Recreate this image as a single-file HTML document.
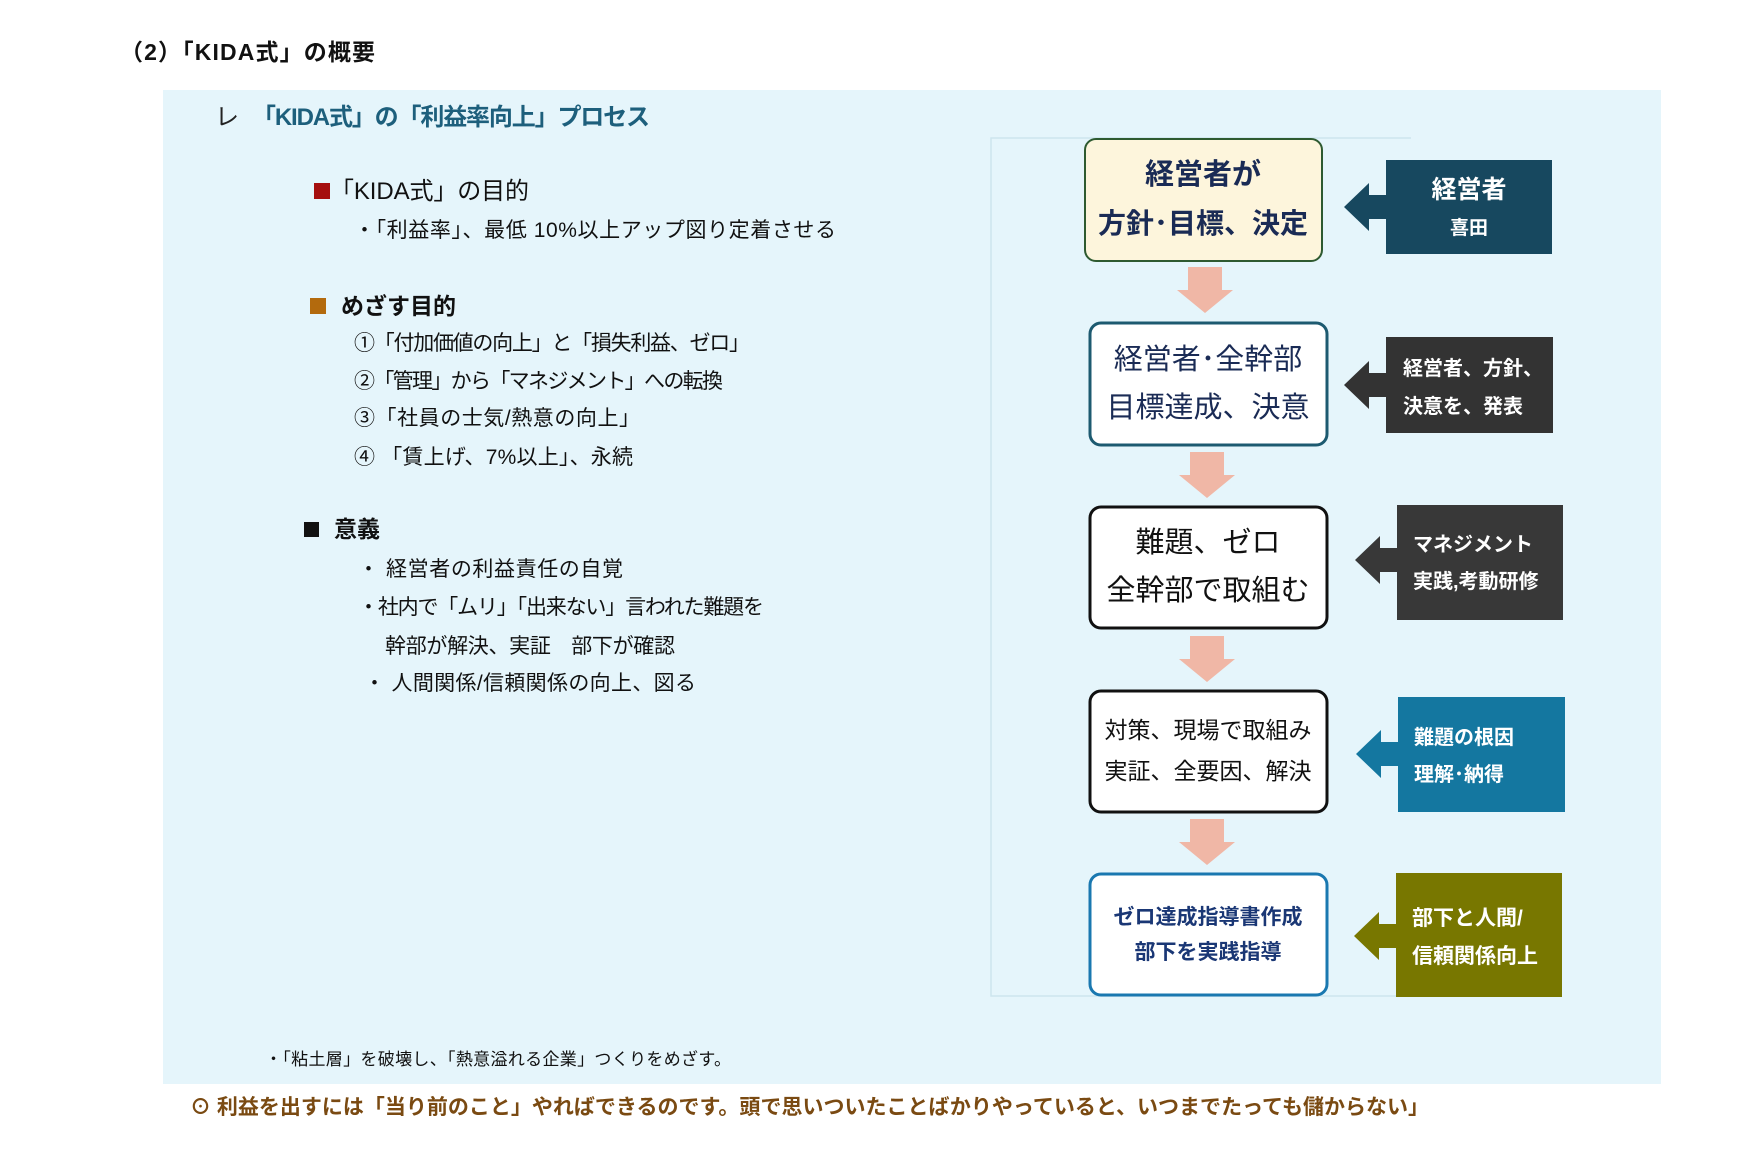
<!DOCTYPE html>
<html><head><meta charset="utf-8"><style>
html,body{margin:0;padding:0;background:#fff;}
svg{display:block;}
text{font-family:"Liberation Sans","Noto Sans CJK JP",sans-serif;}
</style></head><body>
<svg width="1755" height="1155" viewBox="0 0 1755 1155" xmlns="http://www.w3.org/2000/svg">
<rect x="0" y="0" width="1755" height="1155" fill="#fff"/>
<text x="120" y="60" font-size="23" font-weight="bold" fill="#111" textLength="255">（2）「KIDA式」の概要</text>
<rect x="163" y="90" width="1498" height="994" fill="#e5f5fb"/>
<text x="215" y="125" font-size="24" fill="#222">レ</text>
<text x="252" y="125" font-size="24" font-weight="bold" fill="#1d5f7c" textLength="398">「KIDA式」の「利益率向上」プロセス</text>

<rect x="314" y="183" width="16" height="16" fill="#a50f0f"/>
<text x="330" y="199" font-size="24" fill="#111" textLength="199">「KIDA式」の目的</text>
<text x="354" y="237" font-size="21" fill="#111" textLength="482">・「利益率」、最低 10%以上アップ図り定着させる</text>

<rect x="310" y="298" width="16" height="16" fill="#b36a0d"/>
<text x="341" y="314" font-size="23" font-weight="bold" fill="#111">めざす目的</text>
<text x="354" y="350" font-size="21" fill="#111" textLength="396">①「付加価値の向上」と「損失利益、ゼロ」</text>
<text x="354" y="388" font-size="21" fill="#111" textLength="369">②「管理」から「マネジメント」への転換</text>
<text x="354" y="425" font-size="21" fill="#111" textLength="286">③「社員の士気/熱意の向上」</text>
<text x="354" y="464" font-size="21" fill="#111" textLength="279">④ 「賃上げ、7%以上」、永続</text>

<rect x="304" y="522" width="15" height="15" fill="#111"/>
<text x="334" y="537" font-size="23" font-weight="bold" fill="#111">意義</text>
<text x="358" y="576" font-size="21" fill="#111" textLength="265">・ 経営者の利益責任の自覚</text>
<text x="358" y="614" font-size="21" fill="#111" textLength="406">・社内で「ムリ」「出来ない」言われた難題を</text>
<text x="385" y="653" font-size="21" fill="#111" textLength="290">幹部が解決、実証　部下が確認</text>
<text x="364" y="690" font-size="21" fill="#111" textLength="332">・ 人間関係/信頼関係の向上、図る</text>

<text x="265" y="1065" font-size="17" fill="#111" textLength="466">・「粘土層」を破壊し、「熱意溢れる企業」つくりをめざす。</text>
<text x="190" y="1114" font-size="21" font-weight="bold" fill="#7a4a12" textLength="1239">⊙  利益を出すには「当り前のこと」やればできるのです。頭で思いついたことばかりやっていると、いつまでたっても儲からない」</text>

<g transform="translate(-7,0)">
<polyline points="1418,138 998,138 998,996 1418,996" fill="none" stroke="#cde5ee" stroke-width="1.5"/>

<rect x="1092" y="139" width="237" height="122" rx="11" fill="#fdf5dc" stroke="#2e5a30" stroke-width="2"/>
<text x="1210" y="184" font-size="29" font-weight="bold" fill="#1a2b55" text-anchor="middle">経営者が</text>
<text x="1210" y="233" font-size="28" font-weight="bold" fill="#1a2b55" text-anchor="middle">方針･目標、決定</text>

<rect x="1097" y="323" width="237" height="122" rx="11" fill="#fff" stroke="#1d5a70" stroke-width="3"/>
<text x="1215" y="369" font-size="29" fill="#1a2b55" text-anchor="middle">経営者･全幹部</text>
<text x="1215" y="417" font-size="29" fill="#1a2b55" text-anchor="middle">目標達成、決意</text>

<rect x="1097" y="507" width="237" height="121" rx="11" fill="#fff" stroke="#111" stroke-width="3"/>
<text x="1215" y="552" font-size="29" fill="#111" text-anchor="middle">難題、ゼロ</text>
<text x="1215" y="600" font-size="29" fill="#111" text-anchor="middle">全幹部で取組む</text>

<rect x="1097" y="691" width="237" height="121" rx="11" fill="#fff" stroke="#111" stroke-width="3"/>
<text x="1215" y="738" font-size="23" fill="#111" text-anchor="middle">対策、現場で取組み</text>
<text x="1215" y="779" font-size="23" fill="#111" text-anchor="middle">実証、全要因、解決</text>

<rect x="1097" y="874" width="237" height="121" rx="11" fill="#fff" stroke="#1a78b0" stroke-width="3"/>
<text x="1215" y="924" font-size="21" font-weight="bold" fill="#1a3775" text-anchor="middle">ゼロ達成指導書作成</text>
<text x="1215" y="959" font-size="21" font-weight="bold" fill="#1a3775" text-anchor="middle">部下を実践指導</text>

<g fill="#f0b7a6">
<polygon points="1195,267 1229,267 1229,290 1240,290 1212,313 1184,290 1195,290"/>
<polygon points="1197,452 1231,452 1231,475 1242,475 1214,498 1186,475 1197,475"/>
<polygon points="1197,636 1231,636 1231,659 1242,659 1214,682 1186,659 1197,659"/>
<polygon points="1197,819 1231,819 1231,842 1242,842 1214,865 1186,842 1197,842"/>
</g>

<rect x="1393" y="160" width="166" height="94" fill="#17485f"/>
<polygon points="1351,207 1376,183 1376,195 1394,195 1394,219 1376,219 1376,231" fill="#17485f"/>
<text x="1476" y="198" font-size="25" font-weight="bold" fill="#fff" text-anchor="middle">経営者</text>
<text x="1476" y="234" font-size="19" font-weight="bold" fill="#fff" text-anchor="middle">喜田</text>

<rect x="1393" y="337" width="167" height="96" fill="#333"/>
<polygon points="1351,385 1376,361 1376,373 1394,373 1394,397 1376,397 1376,409" fill="#333"/>
<text x="1410" y="375" font-size="20" font-weight="bold" fill="#fff">経営者、方針、</text>
<text x="1410" y="413" font-size="20" font-weight="bold" fill="#fff">決意を、発表</text>

<rect x="1404" y="505" width="166" height="115" fill="#383838"/>
<polygon points="1362,560 1387,536 1387,548 1405,548 1405,572 1387,572 1387,584" fill="#383838"/>
<text x="1420" y="551" font-size="20" font-weight="bold" fill="#fff">マネジメント</text>
<text x="1420" y="588" font-size="20" font-weight="bold" fill="#fff">実践,考動研修</text>

<rect x="1405" y="697" width="167" height="115" fill="#1477a0"/>
<polygon points="1363,754 1388,730 1388,742 1406,742 1406,766 1388,766 1388,778" fill="#1477a0"/>
<text x="1421" y="744" font-size="20" font-weight="bold" fill="#fff">難題の根因</text>
<text x="1421" y="781" font-size="20" font-weight="bold" fill="#fff">理解･納得</text>

<rect x="1403" y="873" width="166" height="124" fill="#787700"/>
<polygon points="1361,936 1386,912 1386,924 1404,924 1404,948 1386,948 1386,960" fill="#787700"/>
<text x="1419" y="925" font-size="21" font-weight="bold" fill="#fff">部下と人間/</text>
<text x="1419" y="963" font-size="21" font-weight="bold" fill="#fff">信頼関係向上</text>
</g>
</svg>
</body></html>
